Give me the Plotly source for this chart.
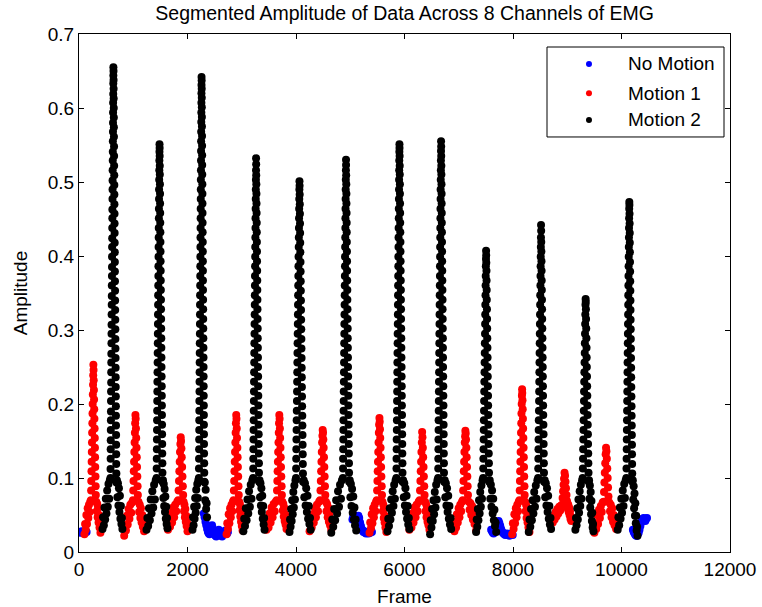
import numpy as np
import plotly.graph_objects as go

# Classes and their plotting colours
class_names = ["No Motion", "Motion 1", "Motion 2"]
class_colors = ["#0000ff", "#ff0000", "#000000"]

# Segments in recording order (0 = No Motion, 1 = Motion 1, 2 = Motion 2)
seg_class = [0, 1, 2, 1, 2, 1, 2, 0, 1, 2, 1, 2, 1, 2, 0,
             1, 2, 1, 2, 1, 2, 0, 1, 2, 1, 2, 1, 2, 0]

# Frame markers per segment: first frame, burst start, burst end, last frame
seg_frames = [
    (0, 140, 140, 140),
    (100, 220, 310, 395),
    (433, 580, 690, 800),
    (833, 995, 1085, 1200),
    (1244, 1430, 1540, 1630),
    (1640, 1830, 1920, 2000),
    (2092, 2210, 2310, 2360),
    (2300, 2745, 2745, 2745),
    (2720, 2850, 2945, 3015),
    (3030, 3210, 3320, 3420),
    (3456, 3645, 3740, 3825),
    (3880, 4000, 4130, 4270),
    (4250, 4445, 4540, 4650),
    (4650, 4865, 4980, 5110),
    (5040, 5400, 5400, 5400),
    (5355, 5490, 5585, 5665),
    (5687, 5850, 5965, 6090),
    (6090, 6280, 6370, 6460),
    (6472, 6620, 6730, 6860),
    (6920, 7075, 7170, 7320),
    (7320, 7450, 7560, 7690),
    (7597, 7995, 7995, 7995),
    (7984, 8120, 8215, 8303),
    (8290, 8463, 8573, 8702),
    (8733, 8905, 8995, 9075),
    (9150, 9285, 9395, 9483),
    (9500, 9670, 9760, 9900),
    (9930, 10090, 10200, 10295),
    (10210, 10470, 10470, 10470),
]

# Amplitude (x 1e-3) while the activity builds up (whole segment for No Motion)
seg_rise = [
    [27, 27, 26, 28, 27, 26, 27, 28, 27, 27],
    [24, 38, 30, 50, 38, 59, 46, 64, 54, 68],
    [31, 47, 36, 60, 44, 72, 52, 83, 61, 92, 72, 97],
    [22, 37, 29, 49, 37, 58, 45, 64, 53, 67],
    [30, 46, 35, 59, 43, 71, 52, 82, 60, 91, 71, 97],
    [30, 42, 34, 52, 40, 60, 47, 64, 55, 68],
    [30, 47, 36, 61, 45, 73, 53, 84, 62, 92, 73, 97],
    [52, 47, 41, 36, 31, 27, 25, 24, 28, 33, 36, 31, 27, 24, 22, 21, 23, 27,
     30, 28, 25, 22, 21, 24, 26, 28, 29, 27, 25, 27],
    [24, 39, 31, 51, 39, 59, 47, 64, 55, 68],
    [28, 45, 35, 59, 43, 71, 52, 82, 61, 91, 72, 97],
    [30, 42, 33, 52, 40, 60, 47, 65, 55, 68],
    [27, 44, 34, 58, 42, 70, 51, 81, 60, 90, 71, 97],
    [28, 41, 33, 51, 40, 59, 47, 64, 55, 68],
    [26, 44, 34, 58, 43, 70, 52, 82, 61, 91, 72, 97],
    [44, 48, 50, 47, 42, 38, 45, 49, 46, 40, 35, 31, 29, 27, 28, 26, 25, 27,
     26, 25, 27, 26, 28, 27],
    [26, 40, 32, 51, 39, 59, 47, 64, 55, 68],
    [28, 45, 35, 59, 44, 71, 53, 82, 62, 91, 72, 97],
    [30, 42, 33, 52, 40, 60, 47, 64, 55, 68],
    [24, 43, 33, 58, 42, 70, 51, 81, 60, 91, 71, 97],
    [28, 41, 33, 51, 40, 59, 47, 64, 55, 68],
    [27, 44, 34, 58, 43, 70, 52, 81, 61, 90, 72, 97],
    [30, 28, 26, 25, 27, 30, 34, 38, 41, 42, 39, 35, 31, 28, 26, 25, 24, 23,
     24, 25, 24, 23, 22, 24, 25, 24, 23],
    [24, 39, 31, 51, 39, 59, 47, 64, 55, 68],
    [27, 44, 34, 58, 43, 70, 52, 81, 61, 90, 72, 97],
    [40, 49, 44, 54, 48, 58, 52, 61, 56, 63],
    [30, 46, 36, 59, 44, 71, 53, 82, 62, 91, 72, 97],
    [26, 39, 31, 50, 38, 57, 46, 62, 54, 67],
    [30, 47, 36, 60, 45, 72, 53, 83, 62, 92, 73, 97],
    [30, 27, 25, 23, 22, 22, 24, 26, 30, 35, 40, 43, 45, 46, 44, 42, 45, 46],
]

# Amplitude (x 1e-3) during the main burst: samples on the way up, then down
seg_burst = [
    [],
    [70, 83, 96, 109, 122, 135, 148, 161, 174, 187, 200, 213, 226, 239, 253,
     246, 232, 219, 206, 193, 180, 167, 154, 141, 128, 115, 102, 89, 77],
    [100, 112, 126, 139, 151, 165, 178, 190, 204, 217, 229, 243, 256, 268, 282,
     295, 307, 321, 334, 346, 360, 373, 385, 399, 412, 424, 438, 451, 463, 477,
     490, 502, 516, 529, 541, 555, 568, 580, 594, 607, 619, 633, 644, 655,
     650, 638, 626, 613, 600, 587, 574, 561, 548, 535, 522, 509, 496, 483, 470,
     457, 444, 431, 418, 405, 392, 379, 366, 353, 340, 327, 314, 301, 288, 275,
     262, 249, 236, 223, 210, 197, 184, 171, 158, 145, 132, 119, 106, 94],
    [70, 83, 96, 109, 122, 135, 148, 161, 174, 185,
     180, 167, 154, 141, 128, 115, 102, 89, 77],
    [100, 113, 126, 139, 152, 165, 178, 191, 204, 217, 230, 243, 256, 269, 282,
     295, 308, 321, 334, 347, 360, 373, 386, 399, 412, 425, 438, 451, 464, 477,
     490, 503, 516, 529, 541, 551,
     546, 535, 522, 510, 497, 484, 471, 458, 445, 432, 419, 406, 393, 380, 367,
     354, 341, 328, 315, 302, 289, 276, 263, 250, 237, 224, 211, 198, 185, 172,
     159, 146, 133, 120, 107, 95],
    [70, 83, 96, 109, 122, 135, 146, 155,
     150, 140, 128, 115, 102, 89, 77],
    [100, 113, 126, 139, 152, 165, 178, 191, 204, 217, 230, 243, 256, 269, 282,
     295, 308, 321, 334, 347, 360, 373, 386, 399, 412, 425, 438, 451, 464, 477,
     490, 503, 516, 529, 542, 555, 568, 581, 594, 607, 620, 631, 642,
     637, 626, 614, 601, 588, 575, 562, 549, 536, 523, 510, 497, 484, 471, 458,
     445, 432, 419, 406, 393, 380, 367, 354, 341, 328, 315, 302, 289, 276, 263,
     250, 237, 224, 211, 198, 185, 172, 159, 146, 133, 120, 107, 95],
    [],
    [70, 83, 96, 109, 122, 135, 148, 161, 174, 185,
     180, 167, 154, 141, 128, 115, 102, 89, 77],
    [100, 113, 126, 139, 152, 165, 178, 191, 204, 217, 230, 243, 256, 269, 282,
     295, 308, 321, 334, 347, 360, 373, 386, 399, 412, 425, 438, 451, 464, 477,
     490, 503, 516, 532,
     524, 509, 497, 484, 471, 458, 445, 432, 419, 406, 393, 380, 367, 354, 341,
     328, 315, 302, 289, 276, 263, 250, 237, 224, 211, 198, 185, 172, 159, 146,
     133, 120, 107, 95],
    [70, 83, 96, 109, 122, 135, 148, 161, 174, 185,
     180, 167, 154, 141, 128, 115, 102, 89, 77],
    [100, 113, 126, 139, 152, 165, 178, 191, 204, 217, 230, 243, 256, 269, 282,
     295, 308, 321, 334, 347, 360, 373, 386, 399, 412, 425, 438, 451, 464, 477,
     490, 501,
     495, 483, 470, 457, 444, 431, 418, 405, 392, 379, 366, 353, 340, 327, 314,
     301, 288, 275, 262, 249, 236, 223, 210, 197, 184, 171, 158, 145, 132, 119,
     106, 95],
    [70, 83, 96, 109, 122, 135, 148, 157, 165,
     161, 152, 141, 128, 115, 102, 89, 77],
    [100, 113, 126, 139, 152, 165, 178, 191, 204, 217, 230, 243, 256, 269, 282,
     295, 308, 321, 334, 347, 360, 373, 386, 399, 412, 425, 438, 451, 464, 477,
     490, 503, 516, 530,
     523, 509, 497, 484, 471, 458, 445, 432, 419, 406, 393, 380, 367, 354, 341,
     328, 315, 302, 289, 276, 263, 250, 237, 224, 211, 198, 185, 172, 159, 146,
     133, 120, 107, 95],
    [],
    [70, 83, 96, 109, 122, 135, 148, 161, 172, 181,
     176, 166, 154, 141, 128, 115, 102, 89, 77],
    [100, 113, 126, 139, 152, 165, 178, 191, 204, 217, 230, 243, 256, 269, 282,
     295, 308, 321, 334, 347, 360, 373, 386, 399, 412, 425, 438, 451, 464, 477,
     490, 503, 516, 529, 541, 551,
     546, 535, 522, 510, 497, 484, 471, 458, 445, 432, 419, 406, 393, 380, 367,
     354, 341, 328, 315, 302, 289, 276, 263, 250, 237, 224, 211, 198, 185, 172,
     159, 146, 133, 120, 107, 95],
    [70, 83, 96, 109, 122, 135, 148, 162,
     155, 141, 128, 115, 102, 89, 77],
    [100, 113, 126, 139, 152, 165, 178, 191, 204, 217, 230, 243, 256, 269, 282,
     295, 308, 321, 334, 347, 360, 373, 386, 399, 412, 425, 438, 451, 464, 477,
     490, 503, 516, 529, 542, 555,
     548, 535, 522, 510, 497, 484, 471, 458, 445, 432, 419, 406, 393, 380, 367,
     354, 341, 328, 315, 302, 289, 276, 263, 250, 237, 224, 211, 198, 185, 172,
     159, 146, 133, 120, 107, 95],
    [70, 83, 96, 109, 122, 135, 148, 156, 164,
     160, 152, 141, 128, 115, 102, 89, 77],
    [100, 113, 126, 139, 152, 165, 178, 191, 204, 217, 230, 243, 256, 269, 282,
     295, 308, 321, 334, 347, 360, 373, 386, 396, 407,
     401, 391, 380, 367, 354, 341, 328, 315, 302, 289, 276, 263, 250, 237, 224,
     211, 198, 185, 172, 159, 146, 133, 120, 107, 95],
    [],
    [70, 83, 96, 109, 122, 135, 148, 161, 174, 187, 200, 211, 220,
     215, 205, 193, 180, 167, 154, 141, 128, 115, 102, 89, 77],
    [100, 113, 126, 139, 152, 165, 178, 191, 204, 217, 230, 243, 256, 269, 282,
     295, 308, 321, 334, 347, 360, 373, 386, 399, 412, 425, 442,
     434, 419, 406, 393, 380, 367, 354, 341, 328, 315, 302, 289, 276, 263, 250,
     237, 224, 211, 198, 185, 172, 159, 146, 133, 120, 107, 95],
    [64, 73, 82, 91, 99, 107,
     103, 95, 86, 77, 69],
    [100, 113, 126, 139, 152, 165, 178, 191, 204, 217, 230, 243, 256, 269, 282,
     295, 308, 321, 334, 342,
     338, 328, 315, 302, 289, 276, 263, 250, 237, 224, 211, 198, 185, 172, 159,
     146, 133, 120, 107, 95],
    [68, 81, 94, 107, 120, 132, 141,
     136, 126, 113, 100, 87, 75],
    [100, 113, 126, 139, 152, 165, 178, 191, 204, 217, 230, 243, 256, 269, 282,
     295, 308, 321, 334, 347, 360, 373, 386, 399, 412, 425, 438, 451, 464, 473,
     469, 457, 444, 431, 418, 405, 392, 379, 366, 353, 340, 327, 314, 301, 288,
     275, 262, 249, 236, 223, 210, 197, 184, 171, 158, 145, 132, 119, 106, 95],
    [],
]

# Amplitude (x 1e-3) as the activity dies away
seg_fall = [
    [],
    [68, 55, 65, 47, 60, 40, 50, 33, 39, 26],
    [97, 74, 93, 63, 86, 54, 76, 45, 62, 38, 46, 31],
    [68, 54, 64, 46, 59, 40, 50, 34, 40, 28],
    [97, 73, 92, 62, 85, 54, 75, 45, 61, 38, 46, 32],
    [68, 55, 64, 47, 58, 41, 49, 35, 40, 28],
    [94, 70, 84, 58, 66, 47],
    [],
    [68, 56, 65, 48, 60, 41, 51, 35, 40, 29],
    [97, 74, 93, 63, 86, 54, 76, 45, 62, 37, 46, 30],
    [68, 56, 65, 48, 60, 42, 51, 37, 42, 31],
    [97, 74, 93, 63, 86, 54, 76, 45, 62, 38, 46, 30],
    [68, 55, 65, 47, 60, 41, 51, 36, 41, 30],
    [97, 74, 92, 62, 85, 53, 75, 44, 60, 36, 44, 29],
    [],
    [68, 55, 64, 46, 59, 40, 49, 33, 38, 27],
    [97, 74, 93, 63, 86, 54, 76, 45, 62, 37, 46, 31],
    [68, 55, 65, 47, 60, 41, 50, 36, 41, 30],
    [97, 74, 93, 63, 86, 54, 76, 45, 62, 37, 46, 31],
    [68, 57, 66, 50, 62, 44, 54, 38, 44, 29],
    [97, 72, 91, 61, 83, 52, 72, 43, 57, 35, 40, 27],
    [],
    [68, 55, 64, 46, 59, 40, 49, 33, 38, 27],
    [97, 74, 93, 63, 86, 54, 76, 45, 62, 37, 46, 31],
    [66, 58, 64, 54, 60, 50, 55, 45, 48, 42],
    [97, 72, 90, 60, 81, 51, 69, 42, 53, 33, 38, 28],
    [67, 55, 64, 47, 59, 41, 50, 36, 41, 31],
    [97, 71, 89, 59, 79, 49, 66, 39, 49, 29, 34, 22],
    [],
]


def segment_points(frames, rise, burst, fall):
    """Spread each run of samples over its frame interval."""
    f0, f1, f2, f3 = frames
    xs, ys = [], []
    if rise:
        xs += list(np.linspace(f0, f1, len(rise), endpoint=not burst))
        ys += rise
    if burst:
        xs += list(np.linspace(f1, f2, len(burst)))
        ys += burst
    if fall:
        xs += list(np.linspace(f2, f3, len(fall) + 1)[1:])
        ys += fall
    return np.round(xs), np.array(ys) / 1000.0


class_x = {k: [] for k in range(3)}
class_y = {k: [] for k in range(3)}
for c, fr, r, b, f in zip(seg_class, seg_frames, seg_rise, seg_burst, seg_fall):
    x, y = segment_points(fr, r, b, f)
    class_x[c].extend(x)
    class_y[c].extend(y)

font_family = "Liberation Sans, Arial, Helvetica, sans-serif"

fig = go.Figure()
for k in range(3):
    fig.add_trace(go.Scatter(
        x=class_x[k], y=class_y[k], mode="markers", name=class_names[k],
        marker=dict(color=class_colors[k], size=8, line=dict(width=0)),
        showlegend=False,
    ))

# Boxed legend in the upper-right corner of the axes
leg_x0, leg_x1 = 0.7189, 0.9908
leg_y0, leg_y1 = 0.8012, 0.9749
row_y = [0.9421, 0.8855, 0.8340]
dot_x = 0.7834
text_x = 0.8410
shapes = [dict(type="rect", xref="paper", yref="paper",
               x0=leg_x0, x1=leg_x1, y0=leg_y0, y1=leg_y1,
               line=dict(color="black", width=1), fillcolor="white", layer="above")]
annotations = []
rx, ry = 3.0 / 651, 3.0 / 518
for k in range(3):
    shapes.append(dict(type="circle", xref="paper", yref="paper",
                       x0=dot_x - rx, x1=dot_x + rx,
                       y0=row_y[k] - ry, y1=row_y[k] + ry,
                       line=dict(width=0), fillcolor=class_colors[k], layer="above"))
    annotations.append(dict(xref="paper", yref="paper", x=text_x, y=row_y[k],
                            text=class_names[k], showarrow=False,
                            xanchor="left", yanchor="middle",
                            font=dict(family=font_family, size=19, color="black")))

axis_common = dict(
    showline=True, linecolor="black", linewidth=1, mirror="ticks",
    ticks="inside", ticklen=5, tickcolor="black", tickwidth=1,
    showgrid=False, zeroline=False,
    tickfont=dict(family=font_family, size=19, color="black"),
)

fig.update_layout(
    width=762, height=607,
    margin=dict(l=79, r=32, t=34, b=55, autoexpand=False),
    paper_bgcolor="white", plot_bgcolor="white",
    title=dict(text="Segmented Amplitude of Data Across 8 Channels of EMG",
               x=0.531, xref="container", xanchor="center",
               y=0.979, yref="container", yanchor="middle",
               font=dict(family=font_family, size=19.5, color="black")),
    xaxis=dict(range=[0, 12000], tickvals=[0, 2000, 4000, 6000, 8000, 10000, 12000],
               tickformat="d",
               title=dict(text="Frame", standoff=11,
                          font=dict(family=font_family, size=19, color="black")),
               automargin=False, **axis_common),
    yaxis=dict(range=[0, 0.7], tickvals=[0, 0.1, 0.2, 0.3, 0.4, 0.5, 0.6, 0.7],
               title=dict(text="Amplitude", standoff=15,
                          font=dict(family=font_family, size=19, color="black")),
               automargin=False, **axis_common),
    shapes=shapes, annotations=annotations,
    showlegend=False,
)

fig.write_html("out.html")
